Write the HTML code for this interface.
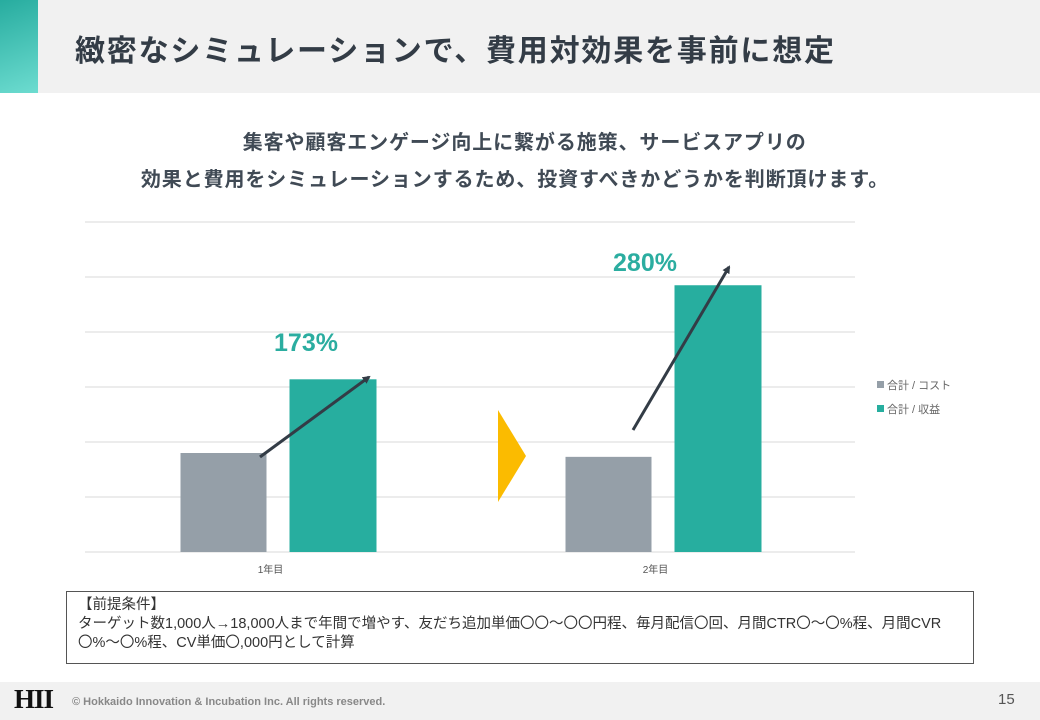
<!DOCTYPE html>
<html><head><meta charset="utf-8"><style>
body{margin:0;width:1040px;height:720px;position:relative;background:#fff;font-family:"Liberation Sans","Noto Sans CJK JP",sans-serif;overflow:hidden}
.abs{position:absolute}
</style></head><body>
<div class="abs" style="left:0;top:0;width:1040px;height:93px;background:#f1f1f1"></div>
<div class="abs" style="left:0;top:0;width:38px;height:93px;background:linear-gradient(160deg,#27ac9f,#6ddcd0)"></div>
<div class="abs" style="left:75px;top:26px;font-size:30px;font-weight:bold;color:#333c46;white-space:nowrap;letter-spacing:1.8px">緻密なシミュレーションで、費用対効果を事前に想定</div>
<div class="abs" style="left:0;width:1030px;top:125px;text-align:center;font-size:20px;font-weight:bold;color:#404a55;line-height:37px;letter-spacing:0.9px;white-space:nowrap">&nbsp;&nbsp;&nbsp;集客や顧客エンゲージ向上に繋がる施策、サービスアプリの<br>効果と費用をシミュレーションするため、投資すべきかどうかを判断頂けます。</div>
<svg class="abs" style="left:0;top:0" width="1040" height="720">
<g id="grid"></g><g id="bars"></g><g id="labels"></g>
<polygon points="498,410 526,456 498,502" fill="#fbbb00"/>
<defs><marker id="ah" markerWidth="8" markerHeight="8" refX="6" refY="4" orient="auto" markerUnits="userSpaceOnUse"><path d="M0,0 L8,4 L0,8 Z" fill="#333c46"/></marker></defs>
<line x1="260" y1="457" x2="369" y2="377" stroke="#333c46" stroke-width="3" marker-end="url(#ah)"/>
<line x1="633" y1="430" x2="729" y2="267" stroke="#333c46" stroke-width="3" marker-end="url(#ah)"/>
<text x="306" y="351" text-anchor="middle" font-size="25" font-weight="bold" fill="#2bada0">173%</text>
<text x="645" y="271" text-anchor="middle" font-size="25" font-weight="bold" fill="#2bada0">280%</text>
<rect x="877" y="381" width="7" height="7" fill="#959fa8"/>
<text x="887" y="389" font-size="11" fill="#666">合計 / コスト</text>
<rect x="877" y="405" width="7" height="7" fill="#27ae9f"/>
<text x="887" y="413" font-size="11" fill="#666">合計 / 収益</text>
</svg>
<div class="abs" style="left:66px;top:591px;width:895px;height:63px;border:1px solid #555;padding:4px 0 4px 11px;font-size:14.5px;line-height:19px;color:#333;white-space:nowrap">【前提条件】<br>ターゲット数1,000人→18,000人まで年間で増やす、友だち追加単価〇〇～〇〇円程、毎月配信〇回、月間CTR〇～〇%程、月間CVR<br>〇%～〇%程、CV単価〇,000円として計算</div>
<div class="abs" style="left:0;top:682px;width:1040px;height:38px;background:#f1f1f1"></div>
<div class="abs" style="left:14px;top:684px;font-family:'Liberation Serif',serif;font-size:27px;font-weight:bold;color:#111;letter-spacing:-1px">HII</div>
<div class="abs" style="left:72px;top:696px;font-size:11px;font-weight:bold;color:#888">© Hokkaido Innovation &amp; Incubation Inc. All rights reserved.</div>
<div class="abs" style="left:998px;top:691px;font-size:15px;color:#555">15</div>
<script>
const categories=["1年目","2年目"];
const costValues=[1.8,1.73];
const revenueValues=[3.14,4.85];
const yTicks=[0,1,2,3,4,5,6];
const NS="http://www.w3.org/2000/svg";
const x0=85,x1=855,y0=552,yMax=6,yPx=330;
const yScale=v=>y0-v/yMax*yPx;
const band=(x1-x0)/categories.length;
const xCenter=i=>x0+band*(i+0.5);
function mk(tag,attrs,parent){const e=document.createElementNS(NS,tag);for(const k in attrs)e.setAttribute(k,attrs[k]);document.getElementById(parent).appendChild(e);return e;}
yTicks.forEach(t=>{
  const l=mk("line",{x1:x0,x2:x1,y1:yScale(t),y2:yScale(t),stroke:"#d9d9d9","stroke-width":1},"grid");
  
  
});
categories.forEach((c,i)=>{
  const cx=xCenter(i);
  const b1=mk("rect",{x:cx-97,y:yScale(costValues[i]),width:86,height:y0-yScale(costValues[i]),fill:"#959fa8"},"bars");
  
  
  const b2=mk("rect",{x:cx+12,y:yScale(revenueValues[i]),width:87,height:y0-yScale(revenueValues[i]),fill:"#27ae9f"},"bars");
  
  
  const t=mk("text",{x:cx-7,y:573,"text-anchor":"middle","font-size":10,fill:"#555"},"labels");
  t.textContent=c;
  
  
});
</script>
</body></html>
